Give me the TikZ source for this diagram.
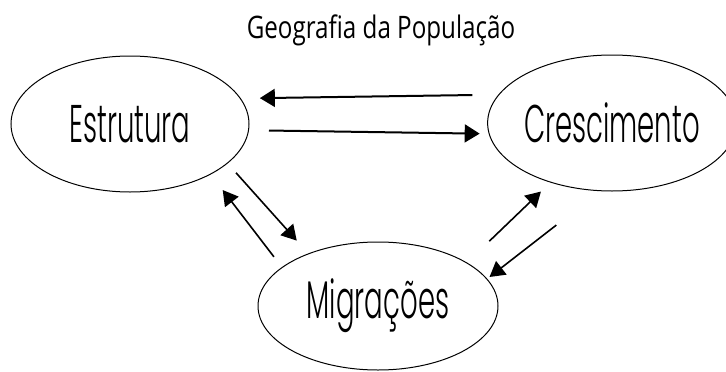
\documentclass[tikz,border=0pt]{standalone}
\usepackage{fontspec}
\newfontfamily\labelfont[FakeStretch=0.52]{Poppins Light}
\newfontfamily\titlefont[FakeStretch=0.78]{Open Sans}
\usetikzlibrary{shapes.geometric,arrows.meta}

\begin{document}
\begin{tikzpicture}[
    x=1pt, y=-1pt,
    place/.style={ellipse, draw=black, line width=1pt, minimum width=238pt, minimum height=136pt, inner sep=0pt, font=\labelfont\fontsize{53}{58}\selectfont},
    link/.style={-{Triangle[length=15pt,width=18pt]}, line width=2pt},
    slant/.style={-{Triangle[length=15pt,width=17pt]}, line width=1.6pt}
]
    \useasboundingbox (0,0) rectangle (726,372);
    \node[font=\titlefont\fontsize{31}{36}\selectfont] (title) at (381,30) {Geografia da População};
    \node[place] (estr) at (130,124) {Estrutura};
    \node[place, minimum width=232pt] (cres) at (612,123) {Crescimento};
    \node[place, minimum width=240pt, minimum height=128pt] (migr) at (378,306) {Migrações};

    \draw[link, shorten <=26pt, shorten >=19pt] (cres.166.3) -- (estr.13.9);
    \draw[link, shorten <=20pt, shorten >=9pt] (estr.-3.9) -- (cres.-175.5);
    \draw[slant, shorten <=12.5pt, shorten >=17.2pt] (estr.-22.3) -- (migr.143.1);
    \draw[slant, shorten <=13pt, shorten >=19.6pt] (migr.158.9) -- (estr.-32);
    \draw[slant, shorten <=30.8pt, shorten >=13pt] (migr.26.5) -- (cres.-136.3);
    \draw[slant, shorten <=55.3pt, shorten >=2.9pt] (cres.-100.5) -- (migr.14);
\end{tikzpicture}
\end{document}
